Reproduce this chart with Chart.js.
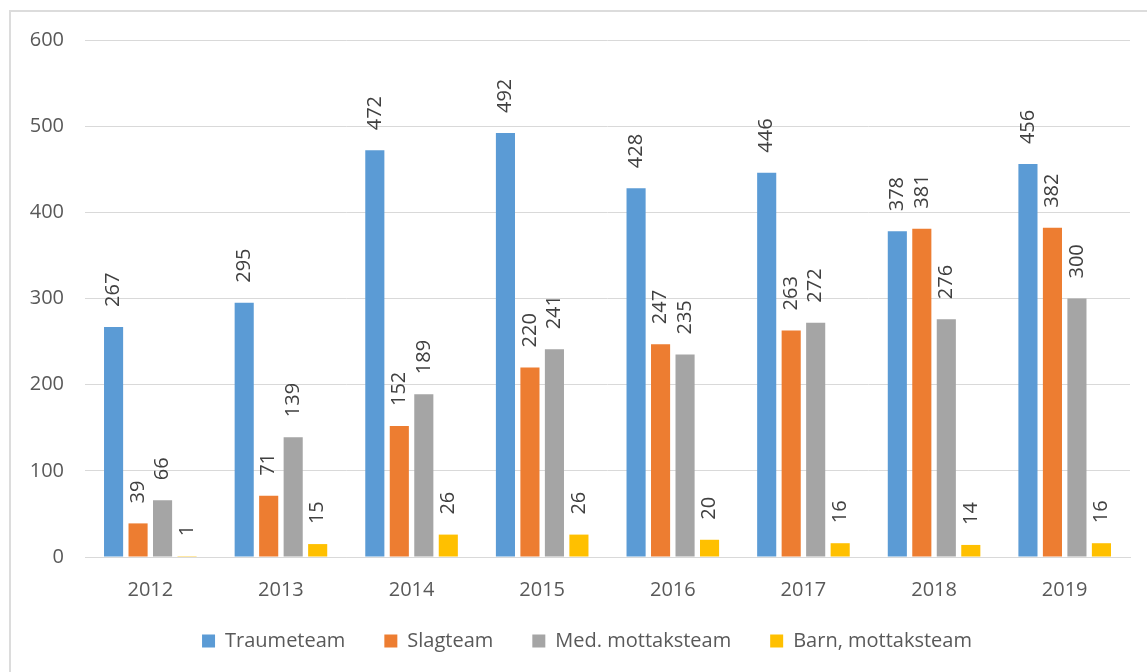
<!DOCTYPE html>
<html>
<head>
<meta charset="utf-8">
<script src="https://cdn.jsdelivr.net/npm/chart.js@4/dist/chart.umd.min.js"></script>
<style>
  html, body { margin: 0; padding: 0; background: #fff; overflow: hidden; }
  #frame {
    position: absolute; left: 9px; top: 10px; width: 1300px; height: 800px;
    border-left: 2px solid #dcdcdc; border-top: 2px solid #dcdcdc;
  }
  #teamChart { position: absolute; left: 0; top: 0; }
</style>
</head>
<body>
<div id="frame"></div>
<canvas id="teamChart" width="1147" height="672"></canvas>
<script>
// Data
const years = ['2012', '2013', '2014', '2015', '2016', '2017', '2018', '2019'];
const traumeteam = [267, 295, 472, 492, 428, 446, 378, 456];
const slagteam = [39, 71, 152, 220, 247, 263, 381, 382];
const medMottaksteam = [66, 139, 189, 241, 235, 272, 276, 300];
const barnMottaksteam = [1, 15, 26, 26, 20, 16, 14, 16];
const yTicks = [0, 100, 200, 300, 400, 500, 600];

const FONT = "'Open Sans', 'Liberation Sans', sans-serif";

// Rotated value labels above each bar
const barLabels = {
  id: 'barLabels',
  afterDatasetsDraw(chart) {
    const c = chart.ctx;
    c.save();
    c.font = '20px ' + FONT;
    c.fillStyle = '#404040';
    c.textAlign = 'left';
    c.textBaseline = 'middle';
    chart.data.datasets.forEach((ds, i) => {
      chart.getDatasetMeta(i).data.forEach((bar, j) => {
        c.save();
        c.translate(bar.x, bar.y - 20);
        c.rotate(-Math.PI / 2);
        c.fillText(String(ds.data[j]), 0, 0);
        c.restore();
      });
    });
    c.restore();
  }
};

// let tick labels spill outside their (narrowed) axis boxes
function noLabelClip(scale) { scale._computeLabelArea = () => null; }

const ctx = document.getElementById('teamChart').getContext('2d');
const teamChart = new Chart(ctx, {
  type: 'bar',
  data: {
    labels: years,
    datasets: [
      { label: 'Traumeteam', data: traumeteam, backgroundColor: '#5B9BD5' },
      { label: 'Slagteam', data: slagteam, backgroundColor: '#ED7D31' },
      { label: 'Med. mottaksteam', data: medMottaksteam, backgroundColor: '#A5A5A5' },
      { label: 'Barn, mottaksteam', data: barnMottaksteam, backgroundColor: '#FFC000' }
    ]
  },
  options: {
    responsive: false,
    animation: false,
    categoryPercentage: 0.75,
    barPercentage: 0.78,
    layout: { padding: { top: 40, right: 17, left: 44, bottom: 11 } },
    scales: {
      x: {
        afterFit(scale) { scale.height = scale.height - 23; noLabelClip(scale); },
        grid: { display: false },
        border: { display: true, color: '#d9d9d9', width: 1 },
        ticks: { color: '#595959', font: { family: FONT, size: 20 }, padding: 13 }
      },
      y: {
        min: 0,
        max: 600,
        afterFit(scale) { scale.width = 41; noLabelClip(scale); },
        afterBuildTicks(scale) { scale.ticks = yTicks.map(v => ({ value: v })); },
        grid: { color: '#d9d9d9', lineWidth: 1, drawTicks: false },
        border: { display: false },
        ticks: { color: '#595959', font: { family: FONT, size: 20 }, padding: 21 }
      }
    },
    plugins: {
      tooltip: { enabled: false },
      legend: {
        position: 'bottom',
        labels: {
          color: '#595959',
          font: { family: FONT, size: 20 },
          boxWidth: 13,
          boxHeight: 13,
          padding: 39
        }
      }
    }
  },
  plugins: [barLabels]
});
</script>
</body>
</html>
